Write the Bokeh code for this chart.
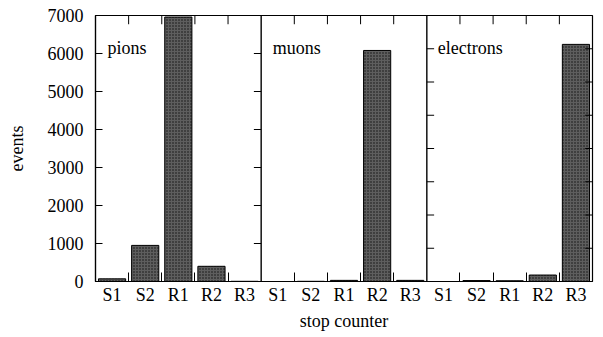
from bokeh.plotting import figure
from bokeh.models import FixedTicker, Span, ColumnDataSource
from bokeh.core.properties import value
from bokeh.embed import file_html
from bokeh.resources import INLINE
import numpy as np

# stop-counter histograms for three particle species
counters = ["S1", "S2", "R1", "R2", "R3"]
particles = ["pions", "muons", "electrons"]
pion_events = [70, 950, 6960, 400, 5]
muon_events = [0, 5, 30, 6080, 30]
electron_events = [0, 25, 20, 170, 6240]
y_ticks = [0, 1000, 2000, 3000, 4000, 5000, 6000, 7000]

FONT = "Liberation Serif"
FS = "18px"
nbin = len(counters)
npanel = len(particles)

events = pion_events + muon_events + electron_events
centers = np.arange(nbin * npanel) + 0.5
boundaries = [i for i in range(1, nbin * npanel) if i % nbin != 0]

p = figure(width=603, height=337, output_backend="svg", toolbar_location=None,
           x_range=(0, nbin * npanel), y_range=(0, 7000),
           min_border_left=95, min_border_right=11, min_border_top=15,
           min_border_bottom=56)
p.grid.visible = False
p.background_fill_color = "white"
p.border_fill_color = "white"
p.outline_line_color = "black"
p.outline_line_width = 1.2

src = ColumnDataSource(dict(x=centers, top=events))
p.vbar(x="x", top="top", width=0.82, bottom=0, source=src,
       fill_color="#5e5e5e", line_color="black", line_width=1,
       hatch_pattern="dot", hatch_color="#111111", hatch_scale=3, hatch_weight=1)

# x axis: counter names under each bin, short ticks on bin edges
xa = p.xaxis[0]
xa.ticker = FixedTicker(ticks=list(centers), minor_ticks=boundaries)
xa.major_label_overrides = {float(c): counters[i % nbin] for i, c in enumerate(centers)}
xa.major_tick_in = 0
xa.major_tick_out = 0
xa.minor_tick_in = 9
xa.minor_tick_out = 0
xa.minor_tick_line_color = "black"
xa.major_label_standoff = 3
xa.major_label_text_font = FONT
xa.major_label_text_font_size = FS
xa.major_label_text_color = "black"
xa.axis_label = "stop counter"
xa.axis_label_text_font = FONT
xa.axis_label_text_font_style = "normal"
xa.axis_label_text_font_size = FS
xa.axis_label_text_color = "black"
xa.axis_label_standoff = 3
xa.axis_line_color = "black"
xa.axis_line_width = 1.2

ya = p.yaxis[0]
ya.ticker = FixedTicker(ticks=y_ticks, minor_ticks=[])
ya.major_tick_in = 7
ya.major_tick_out = 0
ya.major_tick_line_color = "black"
ya.major_label_standoff = 12
ya.major_label_text_font = FONT
ya.major_label_text_font_size = FS
ya.major_label_text_color = "black"
ya.axis_label = "events"
ya.axis_label_text_font = FONT
ya.axis_label_text_font_style = "normal"
ya.axis_label_text_font_size = FS
ya.axis_label_text_color = "black"
ya.axis_label_standoff = 18
ya.axis_line_color = "black"
ya.axis_line_width = 1.2

# panel separators
for k in range(1, npanel):
    p.add_layout(Span(location=k * nbin, dimension="height",
                      line_color="black", line_width=1.4))

# inward ticks along the top edge at bin boundaries
top_len = 230
p.segment(x0=boundaries, y0=[7000] * len(boundaries),
          x1=boundaries, y1=[7000 - top_len] * len(boundaries),
          line_color="black", line_width=1)

# ticks on panel side edges
tick_dx = 0.22
left_side = [v for v in y_ticks if 0 < v < 7000]
fine_side = [875 * k for k in range(1, 8)]
xs0, xs1, ys = [], [], []
for v in left_side:
    xs0.append(nbin - tick_dx); xs1.append(nbin); ys.append(v)
for v in fine_side:
    xs0.append(2 * nbin); xs1.append(2 * nbin + tick_dx); ys.append(v)
    xs0.append(3 * nbin - tick_dx); xs1.append(3 * nbin); ys.append(v)
p.segment(x0=xs0, y0=ys, x1=xs1, y1=ys, line_color="black", line_width=1)

# panel titles
p.text(x=[0.36, nbin + 0.35, 2 * nbin + 0.33], y=[6140] * 3, text=particles,
       text_font=value(FONT), text_font_size=FS, text_color="black",
       text_baseline="alphabetic", text_align="left")

open("out.html", "w").write(file_html(p, INLINE))
